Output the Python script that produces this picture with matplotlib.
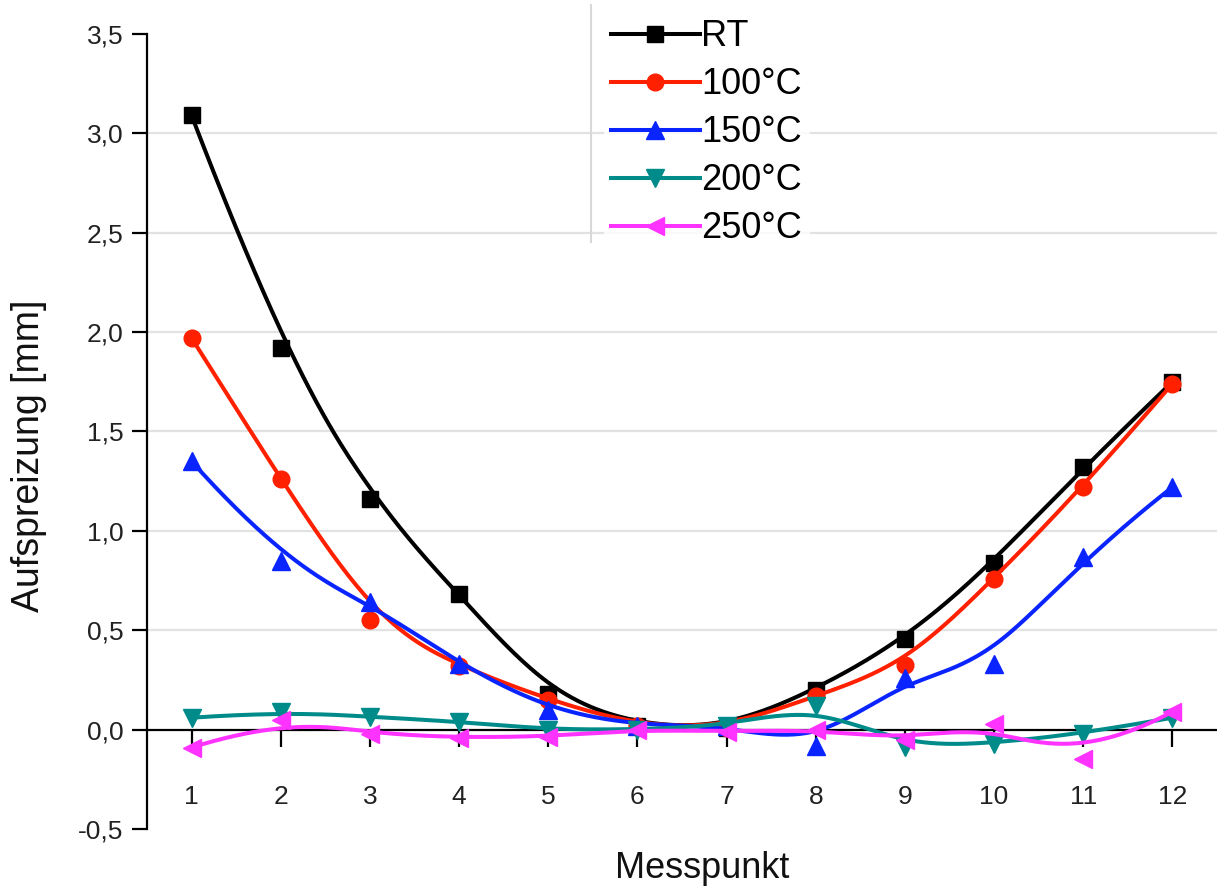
import numpy as np
import matplotlib

matplotlib.use("Agg")
import matplotlib.pyplot as plt
from matplotlib.lines import Line2D
from matplotlib.ticker import FuncFormatter

plt.rcParams["font.family"] = ["Liberation Sans", "DejaVu Sans"]

# data
messpunkt = list(range(1, 13))
rt = [3.09, 1.92, 1.16, 0.68, 0.18, 0.02, 0.01, 0.20, 0.455, 0.84, 1.32, 1.75]
t100 = [1.97, 1.26, 0.55, 0.32, 0.15, 0.02, 0.01, 0.17, 0.325, 0.76, 1.22, 1.74]
t150 = [1.35, 0.85, 0.64, 0.33, 0.10, 0.02, 0.02, -0.08, 0.26, 0.33, 0.87, 1.22]
t200 = [0.06, 0.09, 0.065, 0.04, 0.0, 0.0, 0.02, 0.12, -0.085, -0.07, -0.02, 0.06]
t250 = [-0.09, 0.05, -0.02, -0.04, -0.035, 0.0, -0.01, 0.0, -0.05, 0.03, -0.15, 0.09]

labels = ["RT", "100°C", "150°C", "200°C", "250°C"]
yticks = [-0.5, 0.0, 0.5, 1.0, 1.5, 2.0, 2.5, 3.0, 3.5]
grid_y = [0.5, 1.0, 1.5, 2.0, 2.5, 3.0]

colors = ["#000000", "#FF2000", "#0A24FF", "#008B8B", "#FF33FF"]
markers = ["s", "o", "^", "v", "<"]
msizes = [11.5, 12, 13, 13, 13]


def bspline(xs, ys, num=400, k=3):
    # clamped uniform B-spline using the points as control points
    P = np.column_stack([xs, ys]).astype(float)
    n = len(P)
    inner = np.arange(1, n - k)
    knots = np.concatenate([np.zeros(k + 1), inner, np.full(k + 1, n - k)])
    u = np.linspace(0, n - k, num)
    u[-1] -= 1e-9
    B = np.zeros((num, len(knots) - 1))
    for i in range(len(knots) - 1):
        B[:, i] = (u >= knots[i]) & (u < knots[i + 1])
    for d in range(1, k + 1):
        Bn = np.zeros((num, len(knots) - 1 - d))
        for i in range(len(knots) - 1 - d):
            a = knots[i + d] - knots[i]
            b = knots[i + d + 1] - knots[i + 1]
            t1 = (u - knots[i]) / a * B[:, i] if a > 0 else 0
            t2 = (knots[i + d + 1] - u) / b * B[:, i + 1] if b > 0 else 0
            Bn[:, i] = t1 + t2
        B = Bn
    C = B @ P
    return C[:, 0], C[:, 1]


fig = plt.figure(figsize=(12.17, 8.88), dpi=100)
ax = fig.add_axes([147 / 1217, 1 - 829 / 888, 1 - 147 / 1217, (829 - 34) / 888])

for yv in grid_y:
    ax.axhline(yv, color="#E2E2E2", lw=1.6, zorder=0)

series = [rt, t100, t150, t200, t250]
handles = []
for i, (vals, lab) in enumerate(zip(series, labels)):
    sx, sy = bspline(messpunkt, vals)
    ax.plot(sx, sy, color=colors[i], lw=2.9, zorder=2 + i, solid_capstyle="round")
    ax.plot(messpunkt, vals, linestyle="none", marker=markers[i],
            markersize=msizes[i], color=colors[i], zorder=2 + i)
    handles.append(Line2D([], [], color=colors[i], lw=2.9, marker=markers[i],
                          markersize=msizes[i]))

ax.set_xlim(0.5, 12.5)
ax.set_ylim(-0.5, 3.5)
ax.set_xticks(messpunkt)
ax.set_yticks(yticks)
ax.yaxis.set_major_formatter(FuncFormatter(lambda v, p: f"{v:.1f}".replace(".", ",")))

for s in ["top", "right"]:
    ax.spines[s].set_visible(False)
ax.spines["bottom"].set_position(("data", 0))
ax.spines["bottom"].set_zorder(1)
ax.spines["left"].set_linewidth(1.6)
ax.spines["bottom"].set_linewidth(1.6)

ax.tick_params(axis="y", direction="out", length=11, width=1.6, labelsize=19,
               pad=6, labelcolor="#222222")
ax.tick_params(axis="x", direction="out", length=12, width=1.6, labelsize=19,
               pad=28, labelcolor="#222222")

ax.set_xlabel("Messpunkt", fontsize=26, color="#111111")
ax.xaxis.set_label_coords(0.519, -0.028)
ax.set_ylabel("Aufspreizung [mm]", fontsize=27, color="#111111")
ax.yaxis.set_label_coords(-0.093, 0.47)

leg = fig.legend(handles, labels, loc="upper left",
                 bbox_to_anchor=(604 / 1217, 1 - 12 / 888),
                 fontsize=26, frameon=True, handlelength=2.45, handletextpad=0.05,
                 labelspacing=0.36, borderpad=0.2, borderaxespad=0,
                 numpoints=1, fancybox=False)
leg.get_frame().set_facecolor("white")
leg.get_frame().set_edgecolor("none")
fig.add_artist(Line2D([591 / 1217, 591 / 1217], [1 - 5 / 888, 1 - 242 / 888],
                      color="#D8D8D8", lw=1.5))

fig.savefig("out.png", dpi=100)
